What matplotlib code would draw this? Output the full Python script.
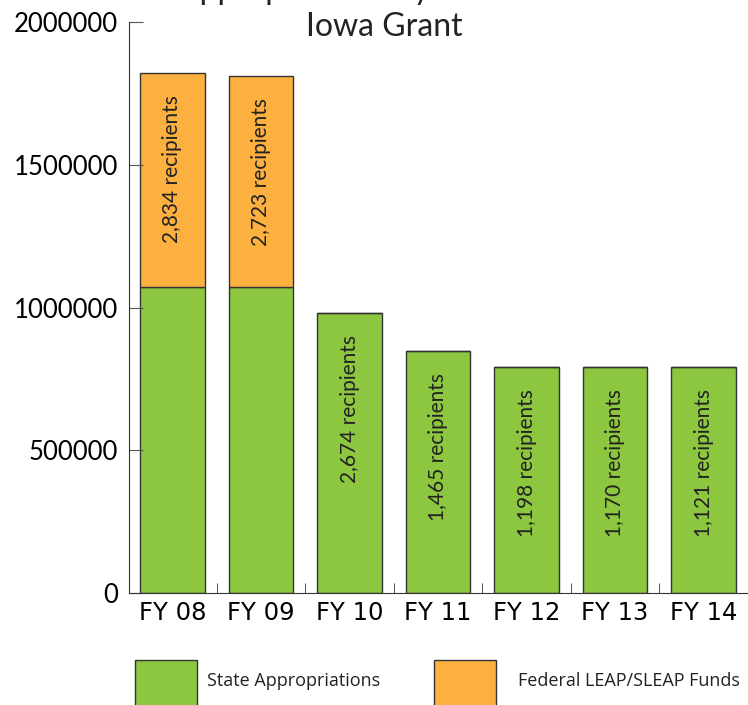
import matplotlib.pyplot as plt
from matplotlib.patches import Rectangle

years = ["FY 08", "FY 09", "FY 10", "FY 11", "FY 12", "FY 13", "FY 14"]
state = [1072000, 1072000, 981000, 848000, 792000, 792000, 792000]
federal = [749000, 739000, 0, 0, 0, 0, 0]
recipients = ["2,834", "2,723", "2,674", "1,465", "1,198", "1,170", "1,121"]

green = "#8DC63F"
orange = "#FBB040"
edge = "#333333"

plt.rcParams['font.family'] = ['Lato', 'DejaVu Sans']

fig = plt.figure(figsize=(7.48, 7.05), dpi=100)
ax = fig.add_axes([129 / 748, 112 / 705, 1 - 129 / 748, (593 - 22) / 705])

x = range(len(years))
ax.bar(x, state, width=0.73, color=green, edgecolor=edge, linewidth=1)
ax.bar(x, federal, width=0.73, bottom=state, color=orange, edgecolor=edge, linewidth=1)

for i in x:
    top = state[i] + federal[i]
    ax.annotate(recipients[i] + " recipients", (i, top), xytext=(0, -69),
                textcoords="offset points", rotation=90, ha="center", va="center",
                fontsize=15, color="#222222")

ax.set_xlim(-0.49, 6.5)
ax.set_ylim(0, 2000000)
ax.set_yticks([0, 500000, 1000000, 1500000, 2000000])
ax.set_yticklabels(["0", "500000", "1000000", "1500000", "2000000"], fontsize=18.5)
ax.set_xticks(list(x))
ax.set_xticklabels(years, fontsize=17.5, family=["Liberation Sans Narrow", "DejaVu Sans"])
ax.set_xticks([i + 0.5 for i in range(len(years))], minor=True)
ax.tick_params(axis="x", which="major", length=0, pad=6)
ax.tick_params(axis="x", which="minor", direction="in", length=7, color=edge)
ax.tick_params(axis="y", direction="in", length=10, color="#555555", pad=8)
for s in ["top", "right"]:
    ax.spines[s].set_visible(False)
ax.spines["left"].set_color(edge)
ax.spines["bottom"].set_color(edge)

# title, first line is cut off by the top edge
fig.text(178 / 748, 1 + 1 / 705, "Appropriations by Year", fontsize=23, ha="left", va="baseline",
         color="#222222")
fig.text(384 / 748, 1 - 27 / 705, "Iowa Grant", fontsize=23, ha="center", va="center",
         color="#222222")

# legend boxes at the bottom
fig.add_artist(Rectangle((135 / 748, -10 / 705), 62 / 748, 55 / 705, transform=fig.transFigure,
                         facecolor=green, edgecolor=edge, linewidth=1))
fig.add_artist(Rectangle((434 / 748, -10 / 705), 62 / 748, 55 / 705, transform=fig.transFigure,
                         facecolor=orange, edgecolor=edge, linewidth=1))
fig.text(207 / 748, 1 - 681 / 705, "State Appropriations", fontsize=13, va="center",
         family=["Open Sans", "DejaVu Sans"], color="#222222")
fig.text(518 / 748, 1 - 681 / 705, "Federal LEAP/SLEAP Funds", fontsize=13, va="center",
         family=["Open Sans", "DejaVu Sans"], color="#222222")

fig.savefig("out.png", dpi=100)
